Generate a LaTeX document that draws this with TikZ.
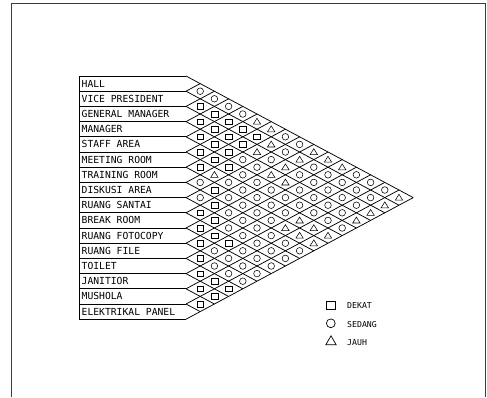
\documentclass[tikz,border=0pt]{standalone}
\usepackage{fontspec}
\newfontfamily\cadfont{DejaVu Sans Mono}
\usepackage{tikz}
\usetikzlibrary{positioning,shapes.geometric}
\definecolor{frameGray}{RGB}{60,60,60}
\tikzset{
  roomlabel/.style={font=\cadfont\fontsize{9.7}{9.7}\selectfont, inner sep=0pt, anchor=west},
  legendlabel/.style={font=\cadfont\fontsize{8.2}{8.2}\selectfont, inner sep=0pt},
  gridline/.style={line width=0.75pt},
  sym/.style={line width=0.55pt},
}
% relation marks: S = dekat, O = sedang, T = jauh
\newcommand{\symS}[2]{\draw[sym, shift={(#1,#2)}] (-3.4,-2.8) rectangle (3.4,2.8);}
\newcommand{\symO}[2]{\draw[sym] (#1,#2) circle[radius=3.3];}
\newcommand{\symT}[2]{\draw[sym, shift={(#1,#2)}] (-3.7,2.6) -- (3.7,2.6) -- (0,-3.3) -- cycle;}
\begin{document}
\begin{tikzpicture}[x=1pt, y=-1pt]
  \useasboundingbox (0,0) rectangle (487,397);
  \draw[frameGray, line width=0.8pt] (11,397) -- (11,3) -- (485.5,3) -- (485.5,397);
  % room names
  \foreach \name [count=\i from 0] in {HALL, VICE PRESIDENT, GENERAL MANAGER, MANAGER,
      STAFF AREA, MEETING ROOM, TRAINING ROOM, DISKUSI AREA, RUANG SANTAI, BREAK ROOM,
      RUANG FOTOCOPY, RUANG FILE, TOILET, JANITIOR, MUSHOLA, ELEKTRIKAL PANEL}
    \node[roomlabel] (room\i) at (81.5,{83.6+15.2*\i}) {\name};
  % boxes and diamond grid
  \draw[gridline] (79,76) -- (79,319.2);
  \foreach \k in {0,...,16} {
    \pgfmathsetmacro{\yb}{76+15.2*\k}
    \draw[gridline] (79,\yb) -- (186,\yb);
    \draw[gridline] (186,\yb) -- ++({14.2*(16-\k)},{7.6*(16-\k)});
    \draw[gridline] (186,\yb) -- ++({14.2*\k},{-7.6*\k});
  }
  % marks, row by row
  \foreach \i/\marks in {
      0/{O,O,O,O,T,T,O,O,T,T,T,O,O,O,T},
      1/{S,S,S,S,S,T,O,T,O,O,O,O,O,T},
      2/{S,S,S,S,T,O,T,O,O,O,O,O,T},
      3/{S,S,S,O,O,T,T,O,O,O,O,T},
      4/{S,S,S,O,O,O,O,O,O,O,O},
      5/{S,T,O,O,O,O,O,T,T,T},
      6/{O,S,O,O,O,O,T,T,T},
      7/{O,S,O,O,O,O,O,O},
      8/{S,S,O,O,O,O,O},
      9/{S,S,S,O,O,O},
      10/{S,O,O,O,O},
      11/{S,O,O,O},
      12/{S,S,S},
      13/{S,S},
      14/{S}} {
    \foreach \s [count=\d] in \marks {
      \pgfmathsetmacro{\cx}{186+14.2*\d}
      \pgfmathsetmacro{\cy}{83.6+7.6*(2*\i+\d)}
      \csname sym\s\endcsname{\cx}{\cy}
    }
  }
  % legend
  \node[draw, line width=0.7pt, minimum width=8.6pt, minimum height=7.3pt, inner sep=0pt] (keyS) at (331,305.3) {};
  \node[draw, circle, line width=0.7pt, minimum size=8.8pt, inner sep=0pt] (keyO) at (330.8,323.3) {};
  \node[draw, regular polygon, regular polygon sides=3, line width=0.7pt, minimum size=12pt, inner sep=0pt] (keyT) at (331,341.8) {};
  \node[legendlabel, anchor=west] (keySlabel) at (347,305.8) {DEKAT};
  \node[legendlabel, anchor=west] (keyOlabel) at (347,324.5) {SEDANG};
  \node[legendlabel, anchor=west] (keyTlabel) at (347,343) {JAUH};
\end{tikzpicture}
\end{document}
